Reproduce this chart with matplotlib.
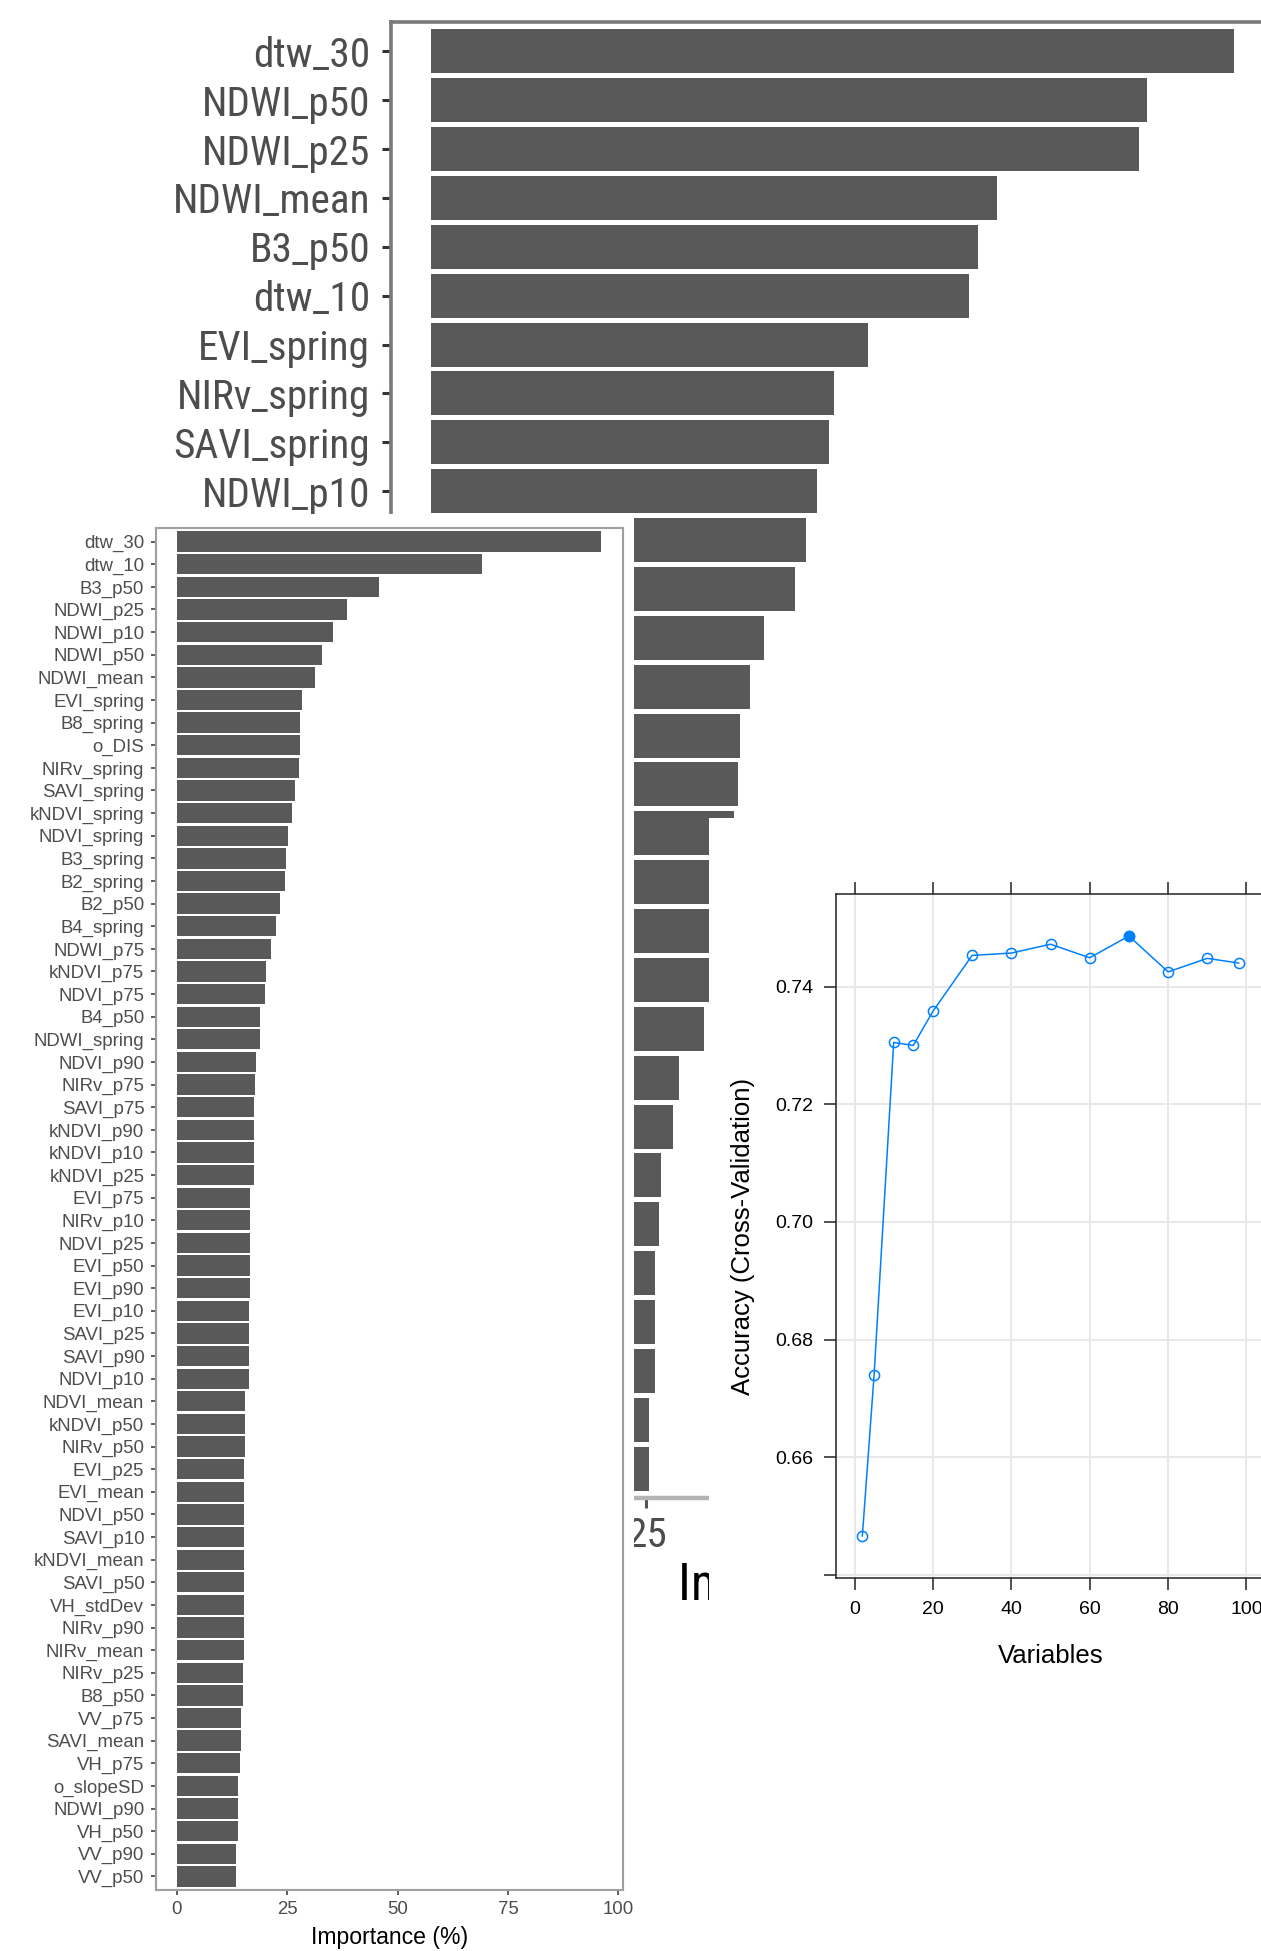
import matplotlib
matplotlib.use("Agg")
import matplotlib.pyplot as plt
from matplotlib import font_manager
from matplotlib.patches import Rectangle
import numpy as np

# --- data -------------------------------------------------------------
# big importance chart (back layer, only partly visible)
top_vars = ["dtw_30", "NDWI_p50", "NDWI_p25", "NDWI_mean", "B3_p50", "dtw_10",
            "EVI_spring", "NIRv_spring", "SAVI_spring", "NDWI_p10",
            "B8_spring", "kNDVI_spring", "NDVI_spring", "o_DIS", "B2_spring",
            "B3_spring", "B4_spring", "B2_p50", "NDWI_p75", "kNDVI_p75",
            "NDVI_p75", "B4_p50", "NDWI_spring", "NDVI_p90", "NIRv_p75",
            "SAVI_p75", "kNDVI_p90", "kNDVI_p10", "kNDVI_p25", "EVI_p75"]
top_imp = [93.2, 83.1, 82.2, 65.7, 63.5, 62.5, 50.7, 46.8, 46.2, 44.8,
           43.5, 42.3, 38.7, 37.0, 35.9, 35.6, 35.2, 34.6, 33.9, 33.1,
           31.7, 28.8, 28.1, 26.7, 26.4, 26.0, 26.0, 26.0, 25.3, 25.3]

# small importance chart (all 60 variables)
left_vars = ["dtw_30", "dtw_10", "B3_p50", "NDWI_p25", "NDWI_p10", "NDWI_p50",
             "NDWI_mean", "EVI_spring", "B8_spring", "o_DIS", "NIRv_spring",
             "SAVI_spring", "kNDVI_spring", "NDVI_spring", "B3_spring",
             "B2_spring", "B2_p50", "B4_spring", "NDWI_p75", "kNDVI_p75",
             "NDVI_p75", "B4_p50", "NDWI_spring", "NDVI_p90", "NIRv_p75",
             "SAVI_p75", "kNDVI_p90", "kNDVI_p10", "kNDVI_p25", "EVI_p75",
             "NIRv_p10", "NDVI_p25", "EVI_p50", "EVI_p90", "EVI_p10",
             "SAVI_p25", "SAVI_p90", "NDVI_p10", "NDVI_mean", "kNDVI_p50",
             "NIRv_p50", "EVI_p25", "EVI_mean", "NDVI_p50", "SAVI_p10",
             "kNDVI_mean", "SAVI_p50", "VH_stdDev", "NIRv_p90", "NIRv_mean",
             "NIRv_p25", "B8_p50", "VV_p75", "SAVI_mean", "VH_p75",
             "o_slopeSD", "NDWI_p90", "VH_p50", "VV_p90", "VV_p50"]
left_imp = [96.2, 69.2, 45.9, 38.5, 35.3, 32.8, 31.4, 28.4, 28.0, 28.0, 27.6,
            26.8, 26.2, 25.1, 24.8, 24.5, 23.4, 22.5, 21.4, 20.3, 20.0,
            18.9, 18.9, 18.0, 17.7, 17.5, 17.5, 17.5, 17.5,
            16.6, 16.6, 16.6, 16.6, 16.6, 16.3, 16.3, 16.3, 16.3,
            15.5, 15.5, 15.5, 15.2, 15.2, 15.2, 15.2, 15.2, 15.2, 15.2, 15.2, 15.2,
            15.0, 14.9, 14.5, 14.5, 14.2, 13.8, 13.8, 13.8, 13.5, 13.5]

# RFE accuracy curve
n_vars = [2, 5, 10, 15, 20, 30, 40, 50, 60, 70, 80, 90, 98]
accuracy = [0.6466, 0.6740, 0.7305, 0.7300, 0.7358, 0.7453, 0.7457,
            0.7472, 0.7449, 0.7486, 0.7425, 0.7448, 0.7440]

imp_ticks = [0, 25, 50, 75, 100]

# --- layout helpers -------------------------------------------------------
W, H = 1261, 1951


def px_box(l, t, r, b):
    # pixel box (left, top, right, bottom) -> figure fraction rect
    return [l / W, 1 - b / H, (r - l) / W, (b - t) / H]


plt.rcParams['font.family'] = ['Liberation Sans', 'DejaVu Sans']

fig = plt.figure(figsize=(W / 100, H / 100), dpi=100)
fig.patch.set_facecolor('white')
renderer = fig.canvas.get_renderer()

# the big chart was pasted vertically stretched, so use a narrow face if there is one
ttf = font_manager.fontManager.ttflist
names = {f.name for f in ttf}
big_kw = {'fontfamily': 'Liberation Sans'}
for cand in ['Liberation Sans Narrow', 'Arial Narrow', 'Roboto Condensed',
             'Open Sans Condensed', 'Noto Sans Condensed']:
    if cand in names:
        big_kw = {'fontfamily': cand}
        break
else:
    for fam in ['Noto Sans', 'Open Sans', 'Roboto']:
        hits = [f for f in ttf if f.name == fam and f.stretch in
                ('condensed', 'semi-condensed') and f.style == 'normal']
        if hits:
            big_kw = {'fontfamily': fam, 'fontstretch': hits[0].stretch}
            break


def fit_size(text, target_px, kw):
    t = fig.text(0, 0, text, fontsize=20, **kw)
    w = t.get_window_extent(renderer).width
    t.remove()
    return 20 * target_px / w


big_size = fit_size('NDWI_mean', 198, big_kw)
big_title = big_size * 1.25

# --- back chart: large importance plot ---------------------------------
ax1 = fig.add_axes(px_box(391, 22, 1274, 1498), zorder=0)
y1 = np.arange(1, len(top_vars) + 1)
ax1.barh(y1, top_imp, height=0.9, color='#595959')
ax1.set_yticks(y1)
ax1.set_yticklabels(top_vars, fontsize=big_size, color='#4d4d4d', **big_kw)
ax1.set_xticks(imp_ticks)
ax1.set_xticklabels([str(t) for t in imp_ticks], fontsize=big_size,
                    color='#4d4d4d', **big_kw)
m1 = max(top_imp)
ax1.set_xlim(-0.05 * m1, 1.05 * m1)
ax1.set_ylim(len(top_vars) + 0.6, 0.4)
ax1.tick_params(axis='y', length=6.5, width=2.2, color='#333333', pad=8.5)
ax1.tick_params(axis='x', length=7, width=2.2, color='#555555', pad=6)
for s in ['left', 'top', 'right']:
    ax1.spines[s].set_color('#7a7a7a')
    ax1.spines[s].set_linewidth(2.6)
ax1.spines['bottom'].set_color('#b4b4b4')
ax1.spines['bottom'].set_linewidth(3.2)
ax1.set_xlabel('Importance (%)', fontsize=big_title, color='black', **big_kw)
ax1.xaxis.set_label_coords(0.5, -(1585 - 1498) / (1498 - 22))
ax1.xaxis.label.set_va('center')

# white background of the pasted small importance plot
fig.add_artist(Rectangle((0, 0), 634 / W, (H - 514) / H,
                         transform=fig.transFigure, facecolor='white',
                         edgecolor='none', zorder=1))

# --- small importance plot --------------------------------------------
ax2 = fig.add_axes(px_box(155.6, 528, 622.7, 1890), zorder=2)
y2 = np.arange(1, len(left_vars) + 1)
ax2.barh(y2, left_imp, height=0.9, color='#595959')
ax2.set_yticks(y2)
ax2.set_yticklabels(left_vars)
ax2.set_xticks(imp_ticks)
m2 = max(left_imp)
ax2.set_xlim(-0.05 * m2, 1.05 * m2)
ax2.set_ylim(len(left_vars) + 0.6, 0.4)
ax2.tick_params(length=3.6, width=1.1, color='#333333', labelsize=13.4,
                labelcolor='#4d4d4d', pad=4.5)
for s in ax2.spines.values():
    s.set_color('#a0a0a0')
    s.set_linewidth(1.5)
ax2.set_xlabel('Importance (%)', fontsize=16.6, color='black')
ax2.xaxis.set_label_coords(0.5, -(1937 - 1890) / (1890 - 528))
ax2.xaxis.label.set_va('center')

# white background of the pasted accuracy plot
fig.add_artist(Rectangle((709 / W, 0), (W - 709) / W, (H - 818) / H,
                         transform=fig.transFigure, facecolor='white',
                         edgecolor='none', zorder=3))

# --- accuracy vs number of variables ------------------------------------
ax3 = fig.add_axes(px_box(836, 894, 1265, 1578), zorder=4)
blue = '#0080ff'
ax3.plot(n_vars, accuracy, color=blue, lw=1.1, marker='o', ms=7.3,
         mfc='none', mec=blue, mew=1.1, zorder=3)
best = int(np.argmax(accuracy))
ax3.plot([n_vars[best]], [accuracy[best]], marker='o', ms=7.3, color=blue,
         ls='none', zorder=4)
xt = [0, 20, 40, 60, 80, 100]
yt = [0.64, 0.66, 0.68, 0.70, 0.72, 0.74]
ax3.set_xticks(xt)
ax3.set_yticks(yt)
ax3.set_yticklabels([''] + ['%.2f' % v for v in yt[1:]])
xr = max(n_vars) - min(n_vars)
yr = max(accuracy) - min(accuracy)
ax3.set_xlim(min(n_vars) - 0.07 * xr, max(n_vars) + 0.07 * xr)
ax3.set_ylim(min(accuracy) - 0.07 * yr, max(accuracy) + 0.07 * yr)
ax3.grid(True, color='#e8e8e8', lw=1.4, zorder=0)
ax3.set_axisbelow(True)
ax3.tick_params(direction='out', length=8.5, width=1.1, color='#222222',
                labelsize=14, labelcolor='black', top=True, right=True, pad=8)
for s in ax3.spines.values():
    s.set_color('#222222')
    s.set_linewidth(1.1)
ax3.set_xlabel('Variables', fontsize=18.5, color='black')
ax3.set_ylabel('Accuracy (Cross-Validation)', fontsize=18.5, color='black')
ax3.xaxis.set_label_coords(0.5, -(1656 - 1578) / (1578 - 894))
ax3.xaxis.label.set_va('center')
ax3.yaxis.set_label_coords(-(836 - 743) / (1265 - 836), 0.5)
ax3.yaxis.label.set_va('center')

fig.savefig('out.png', dpi=100, facecolor='white')
